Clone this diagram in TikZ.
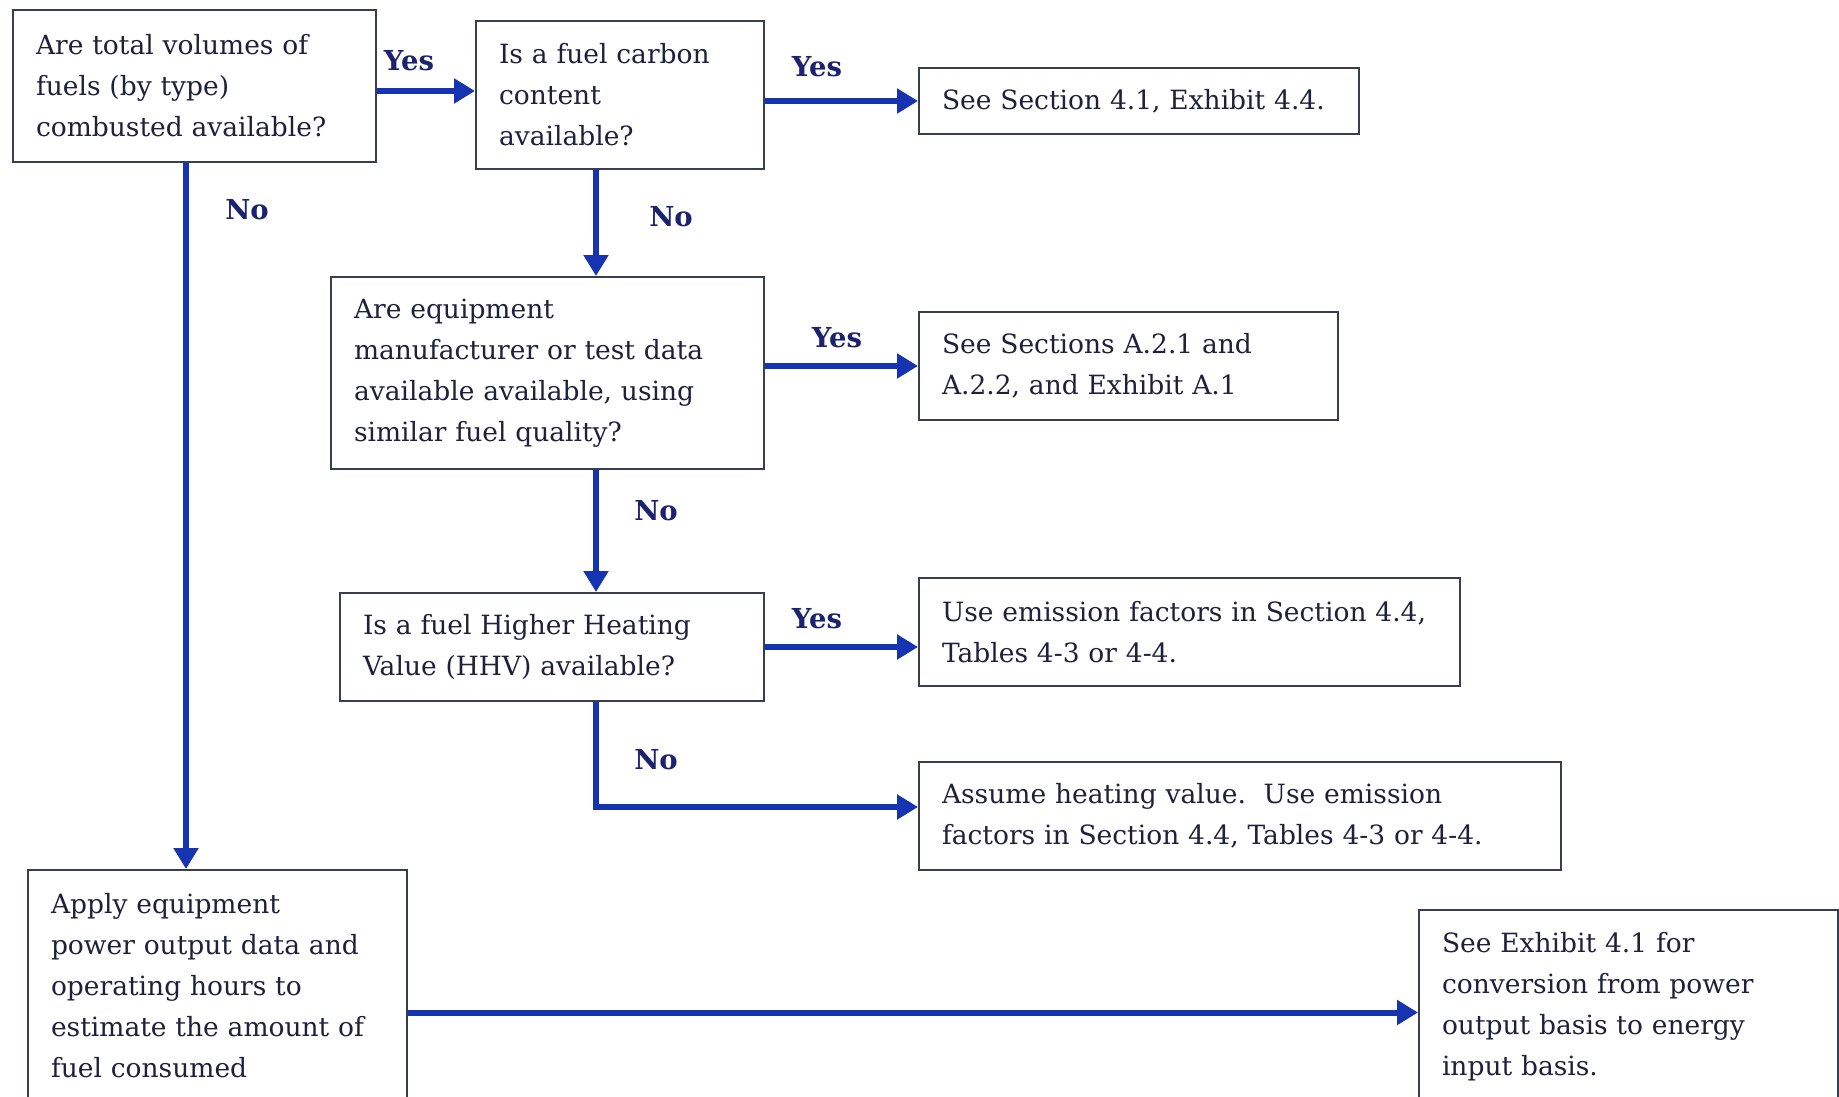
\documentclass[tikz,border=0pt]{standalone}
\usepackage{fontspec}
\setmainfont{DejaVu Serif}
\usetikzlibrary{arrows.meta}
\definecolor{flowblue}{RGB}{22,52,178}
\definecolor{boxline}{RGB}{55,62,80}
\definecolor{inktext}{RGB}{30,32,60}
\definecolor{lblnavy}{RGB}{28,34,110}

\begin{document}
\begin{tikzpicture}[x=1pt,y=-1pt,
    box/.style={draw=boxline,line width=2pt,anchor=north west,align=left,inner xsep=23pt,inner ysep=0pt,text=inktext,font=\fontsize{26.5}{41}\selectfont},
    flow/.style={draw=flowblue,line width=6pt,-{Triangle[length=21pt,width=24pt]}},
    lbl/.style={text=lblnavy,font=\fontsize{27.5}{30}\selectfont\bfseries}]
  \useasboundingbox (0,0) rectangle (1839,1097);

  \node[box,minimum width=363pt,minimum height=152pt,text width=317pt] (volumes) at (12,9) {Are total volumes of\\fuels (by type)\\combusted available?};
  \node[box,minimum width=288pt,minimum height=148pt,text width=242pt] (carbon) at (475,20) {Is a fuel carbon\\content\\available?};
  \node[box,minimum width=440pt,minimum height=66pt,text width=394pt] (sec41) at (918,67) {See Section 4.1, Exhibit 4.4.};
  \node[box,minimum width=433pt,minimum height=192pt,text width=387pt] (equip) at (330,276) {Are equipment\\manufacturer or test data\\available available, using\\similar fuel quality?};
  \node[box,minimum width=419pt,minimum height=108pt,text width=373pt] (secA) at (918,311) {See Sections A.2.1 and\\A.2.2, and Exhibit A.1};
  \node[box,minimum width=424pt,minimum height=108pt,text width=378pt] (hhv) at (339,592) {Is a fuel Higher Heating\\Value (HHV) available?};
  \node[box,minimum width=541pt,minimum height=108pt,text width=495pt] (factors) at (918,577) {Use emission factors in Section 4.4,\\Tables 4-3 or 4-4.};
  \node[box,minimum width=642pt,minimum height=108pt,text width=596pt] (assume) at (918,761) {Assume heating value.\ \ Use emission\\factors in Section 4.4, Tables 4-3 or 4-4.};
  \node[box,minimum width=379pt,minimum height=232pt,text width=333pt] (apply) at (27,869) {Apply equipment\\power output data and\\operating hours to\\estimate the amount of\\fuel consumed};
  \node[box,minimum width=419pt,minimum height=193pt,text width=373pt] (exhibit) at (1418,909) {See Exhibit 4.1 for\\conversion from power\\output basis to energy\\input basis.};

  % the No branch runs down this line
  \coordinate (spine) at (596,168);
  \coordinate (leftspine) at (186,161);

  \draw[flow] ([yshift=-5pt]volumes.east) -- ([yshift=-5pt]volumes.east -| carbon.west);
  \draw[flow] (carbon.east |- sec41.west) -- (sec41.west);
  \draw[flow] (spine |- carbon.south) -- (spine |- equip.north);
  \draw[flow] (leftspine |- volumes.south) -- (leftspine |- apply.north);
  \draw[flow] (equip.east |- secA.west) -- (secA.west);
  \draw[flow] (spine |- equip.south) -- (spine |- hhv.north);
  \draw[flow] (hhv.east) -- (hhv.east -| factors.west);
  \draw[flow] (spine |- hhv.south) |- ([yshift=9pt]assume.west);
  \draw[flow] ([yshift=-6pt]apply.east |- exhibit.west) -- ([yshift=-6pt]exhibit.west);

  \node[lbl] (yes1) at (409,61) {Yes};
  \node[lbl] (yes2) at (817,67) {Yes};
  \node[lbl] (no1) at (247,210) {No};
  \node[lbl] (no2) at (671,217) {No};
  \node[lbl] (yes3) at (837,338) {Yes};
  \node[lbl] (no3) at (656,511) {No};
  \node[lbl] (yes4) at (817,619) {Yes};
  \node[lbl] (no4) at (656,760) {No};
\end{tikzpicture}
\end{document}
